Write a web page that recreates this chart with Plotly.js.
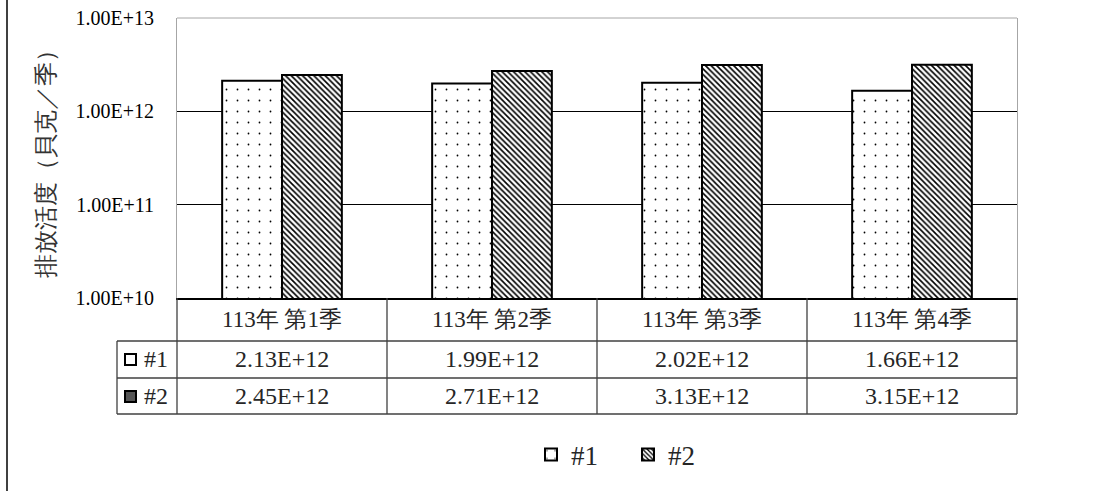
<!DOCTYPE html>
<html>
<head>
<meta charset="utf-8">
<script src="https://cdn.plot.ly/plotly-3.0.1.min.js"></script>
<style>
  html, body { margin: 0; padding: 0; background: #fff; }
  #chart { width: 1113px; height: 491px; }
</style>
</head>
<body>
<div id="chart"></div>
<script>
// ---- data ----
var categories = ['113年 第1季', '113年 第2季', '113年 第3季', '113年 第4季'];
var seriesNames = ['#1', '#2'];
var series1 = [2.13e12, 1.99e12, 2.02e12, 1.66e12];
var series2 = [2.45e12, 2.71e12, 3.13e12, 3.15e12];
var series1Labels = ['2.13E+12', '1.99E+12', '2.02E+12', '1.66E+12'];
var series2Labels = ['2.45E+12', '2.71E+12', '3.13E+12', '3.15E+12'];
var yTickVals = [1e10, 1e11, 1e12, 1e13];
var yTickText = ['1.00E+10', '1.00E+11', '1.00E+12', '1.00E+13'];
var yTitle = '排放活度（貝克／季）';

// ---- layout geometry (pixels) ----
var W = 1113, H = 491;
var L = 177, R = 1017, T = 18, B = 298;
var PW = R - L, PH = B - T;
function px(x) { return (x - L) / PW; }
function py(y) { return (B - y) / PH; }

var FONT = "Liberation Serif";
var n = categories.length;

var rowCat = [298, 341], row1 = [341, 378], row2 = [378, 414];
var headL = 117;

var traces = [
  {
    type: 'bar', name: seriesNames[0], x: categories, y: series1,
    marker: {
      color: '#ffffff',
      line: { color: '#000000', width: 2 },
      pattern: { shape: '.', size: 11, solidity: 0.02, fgcolor: '#000000', bgcolor: '#ffffff' }
    },
    hoverinfo: 'none'
  },
  {
    type: 'bar', name: seriesNames[1], x: categories, y: series2,
    marker: {
      color: '#ffffff',
      line: { color: '#000000', width: 2 },
      pattern: { shape: '\\', size: 4, solidity: 0.4, fgcolor: '#000000', bgcolor: '#ffffff' }
    },
    hoverinfo: 'none'
  }
];

var shapes = [];
function hline(y, x0, x1, color, w) {
  shapes.push({ type: 'line', xref: 'paper', yref: 'paper', x0: px(x0), x1: px(x1), y0: py(y), y1: py(y),
    line: { color: color, width: w } });
}
function vline(x, y0, y1, color, w) {
  shapes.push({ type: 'line', xref: 'paper', yref: 'paper', x0: px(x), x1: px(x), y0: py(y0), y1: py(y1),
    line: { color: color, width: w } });
}
// outer chart border (left)
vline(7, -5, H + 5, '#000000', 1.5);
// top frame of plot
hline(T, L, R, '#a6a6a6', 1);
// table horizontal lines
hline(row1[0], headL, R, '#404040', 1.3);
hline(row2[0], headL, R, '#404040', 1.3);
hline(row2[1], headL, R, '#404040', 1.3);
// table vertical lines
for (var k = 0; k <= n; k++) {
  var xx = L + k * PW / n;
  vline(xx, rowCat[0], row2[1], '#404040', 1.3);
}
vline(headL, row1[0], row2[1], '#404040', 1.3);
// legend-key icons inside table header cells
shapes.push({ type: 'rect', xref: 'paper', yref: 'paper', x0: px(125), x1: px(136), y0: py(354), y1: py(365),
  fillcolor: '#ffffff', line: { color: '#000000', width: 2 } });
shapes.push({ type: 'rect', xref: 'paper', yref: 'paper', x0: px(125), x1: px(136), y0: py(391), y1: py(402),
  fillcolor: '#555555', line: { color: '#000000', width: 2 } });

var annotations = [];
function cellText(x, xref, yMid, text, size) {
  annotations.push({ x: x, xref: xref, y: py(yMid), yref: 'paper', text: text, showarrow: false,
    xanchor: 'center', yanchor: 'middle', font: { family: FONT, size: size, color: '#262626' } });
}
for (var i = 0; i < n; i++) {
  cellText(categories[i], 'x', (rowCat[0] + rowCat[1]) / 2, categories[i], 23);
  cellText(categories[i], 'x', (row1[0] + row1[1]) / 2, series1Labels[i], 24);
  cellText(categories[i], 'x', (row2[0] + row2[1]) / 2, series2Labels[i], 24);
}
cellText(px(156), 'paper', (row1[0] + row1[1]) / 2, seriesNames[0], 24);
cellText(px(156), 'paper', (row2[0] + row2[1]) / 2, seriesNames[1], 24);

var layout = {
  width: W, height: H,
  margin: { l: L, r: W - R, t: T, b: H - B, pad: 0 },
  paper_bgcolor: '#ffffff', plot_bgcolor: '#ffffff',
  font: { family: FONT, color: '#000000' },
  barmode: 'group', bargap: 0.43, bargroupgap: 0,
  showlegend: true,
  legend: {
    orientation: 'h', x: px(531), xanchor: 'left', y: py(455), yanchor: 'middle',
    font: { family: FONT, size: 27, color: '#262626' }, itemwidth: 30, tracegroupgap: 0,
    entrywidth: 52, entrywidthmode: 'pixels'
  },
  xaxis: {
    type: 'category', range: [-0.5, n - 0.5], showticklabels: false, ticks: '',
    showline: true, linecolor: '#000000', linewidth: 1.5, showgrid: false, zeroline: false, fixedrange: true
  },
  yaxis: {
    type: 'log', range: [10, 13], tickmode: 'array', tickvals: yTickVals, ticktext: yTickText,
    tickfont: { family: FONT, size: 20, color: '#000000' }, ticks: '', ticklabelstandoff: 18,
    showgrid: true, gridcolor: '#000000', gridwidth: 1,
    showline: true, linecolor: '#a6a6a6', linewidth: 1, mirror: true, zeroline: false, fixedrange: true,
    title: { text: yTitle, font: { family: FONT, size: 24, color: '#333333' }, standoff: 14 }
  },
  shapes: shapes,
  annotations: annotations
};

Plotly.newPlot('chart', traces, layout, { staticPlot: true, displayModeBar: false });
</script>
</body>
</html>
